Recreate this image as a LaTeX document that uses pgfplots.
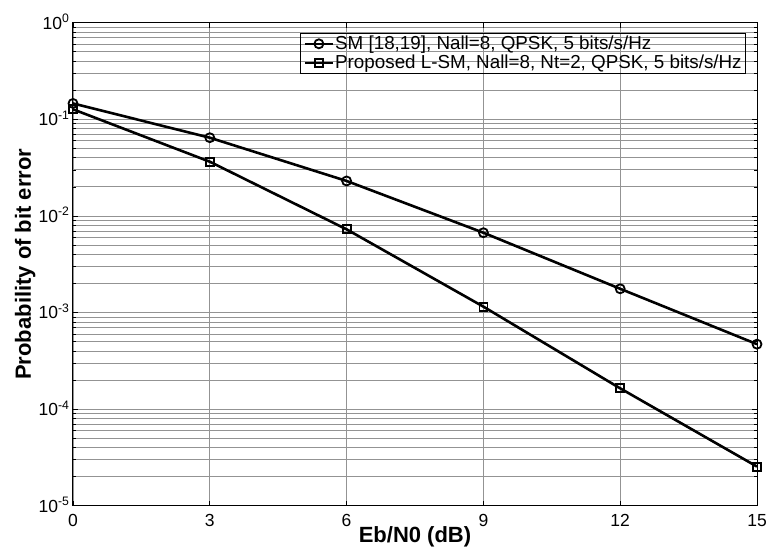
\documentclass[border=0pt]{standalone}
\usepackage{pgfplots}
\pgfplotsset{compat=1.18}
\usepackage{fontspec}
\setmainfont{Liberation Sans}

\begin{document}
\begin{tikzpicture}[font=\fontsize{17.5}{21}\selectfont]
\begin{axis}[
    name=ax,
    scale only axis,
    width=684pt, height=483pt,
    xmin=0, xmax=15,
    ymin=1e-5, ymax=1,
    ymode=log,
    xtick={0,3,6,9,12,15},
    xticklabels={0,3,6,9,12,15},
    ytick={1e-5,1e-4,1e-3,1e-2,1e-1,1},
    yticklabels={10\textsuperscript{-5},10\textsuperscript{-4},10\textsuperscript{-3},10\textsuperscript{-2},10\textsuperscript{-1},10\textsuperscript{0}},
    minor ytick={2e-5,3e-5,4e-5,5e-5,6e-5,7e-5,8e-5,9e-5,
                 2e-4,3e-4,4e-4,5e-4,6e-4,7e-4,8e-4,9e-4,
                 2e-3,3e-3,4e-3,5e-3,6e-3,7e-3,8e-3,9e-3,
                 2e-2,3e-2,4e-2,5e-2,6e-2,7e-2,8e-2,9e-2,
                 2e-1,3e-1,4e-1,5e-1,6e-1,7e-1,8e-1,9e-1},
    xmajorgrids, ymajorgrids, yminorgrids,
    major grid style={gray!85, line width=0.7pt},
    minor grid style={gray!85, line width=0.7pt},
    tick align=inside,
    major tick length=5pt, minor tick length=3pt,
    every tick/.style={black, line width=0.6pt},
    axis line style={line width=1pt},
    yticklabel style={anchor=base east, yshift=-6.3pt},
    xticklabel style={anchor=base, yshift=-20.5pt},
    every axis x label/.style={at={(axis description cs:0.5,0)}, anchor=base, yshift=-36.5pt},
    every axis y label/.style={at={(axis description cs:-0.0614,0.5)}, rotate=90, anchor=base},
    xlabel={\fontsize{22}{26}\selectfont\bfseries Eb/N0 (dB)},
    ylabel={\fontsize{22}{26}\selectfont\bfseries Probability of bit error},
    legend style={at={(axis description cs:0.984,0.979)}, anchor=north east,
        fill=none, draw=black, line width=0.8pt,
        font=\fontsize{18.8}{22}\selectfont,
        inner xsep=3pt, inner ysep=1pt,
        nodes={inner xsep=1pt, inner ysep=2pt},
        cells={anchor=west}},
    legend image code/.code={\draw[mark repeat=2,mark phase=2,#1]
        plot coordinates {(0pt,0pt) (14pt,0pt) (28pt,0pt)};},
]
\addplot[black, line width=2.6pt, mark=o, mark size=4.5pt,
    mark options={line width=1.8pt}] coordinates {
    (0,0.146) (3,0.0645) (6,0.023) (9,0.0067) (12,0.00176) (15,0.00047)
};
\addlegendentry{SM [18,19], Nall=8, QPSK, 5 bits/s/Hz}
\addplot[black, line width=2.6pt, mark=square, mark size=4pt,
    mark options={line width=1.8pt}] coordinates {
    (0,0.127) (3,0.0364) (6,0.00726) (9,0.00115) (12,0.000164) (15,0.0000254)
};
\addlegendentry{Proposed L-SM, Nall=8, Nt=2, QPSK, 5 bits/s/Hz}
\end{axis}
\pgfresetboundingbox
\useasboundingbox ([shift={(-73pt,-46.5pt)}]ax.south west) rectangle ([shift={(9pt,22.7pt)}]ax.north east);
\end{tikzpicture}
\end{document}
